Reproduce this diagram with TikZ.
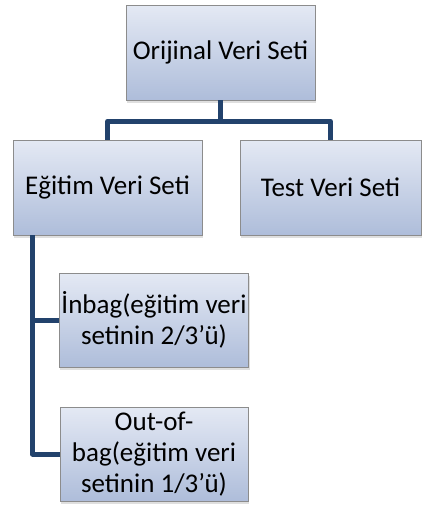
\documentclass[tikz,border=0pt]{standalone}
\usepackage{fontspec}
\setmainfont{Carlito}
\usetikzlibrary{shadows}
\definecolor{boxtop}{RGB}{228,233,244}
\definecolor{boxbottom}{RGB}{174,189,218}
\definecolor{boxline}{RGB}{140,140,140}
\definecolor{treeline}{RGB}{34,66,108}
\begin{document}
\begin{tikzpicture}[x=1pt,y=-1pt,
  setbox/.style={draw=boxline,line width=0.8pt,top color=boxtop,bottom color=boxbottom,
    minimum width=189pt,minimum height=95pt,inner sep=2pt,align=center,
    font=\fontsize{27}{31}\selectfont,
    drop shadow={opacity=0.25,shadow xshift=1pt,shadow yshift=-3pt}},
  treelink/.style={draw=treeline,line width=5pt,line join=round}]
\useasboundingbox (0,0) rectangle (422,506);

\node[setbox] (orijinal) at (220.5,52.5) {Orijinal Veri Seti};
\node[setbox] (egitim) at (107.5,187.5) {Eğitim Veri Seti};
\node[setbox,minimum width=181pt] (test) at (330.5,187.5) {Test Veri Seti};
\node[setbox,minimum width=188pt,minimum height=94pt] (inbag) at (154,320) {İnbag(eğitim veri\\setinin 2/3’ü)};
\node[setbox,minimum width=188pt,minimum height=94pt] (outbag) at (154,454) {Out-of-\\bag(eğitim veri\\setinin 1/3’ü)};

\draw[treelink] (orijinal.south) -- ++(0,21) -| (egitim.north);
\draw[treelink] (orijinal.south) -- ++(0,21) -| (test.north);
\draw[treelink] (egitim.south west) ++(20,0) |- (inbag.west);
\draw[treelink] (egitim.south west) ++(20,0) |- (outbag.west);
\end{tikzpicture}
\end{document}
